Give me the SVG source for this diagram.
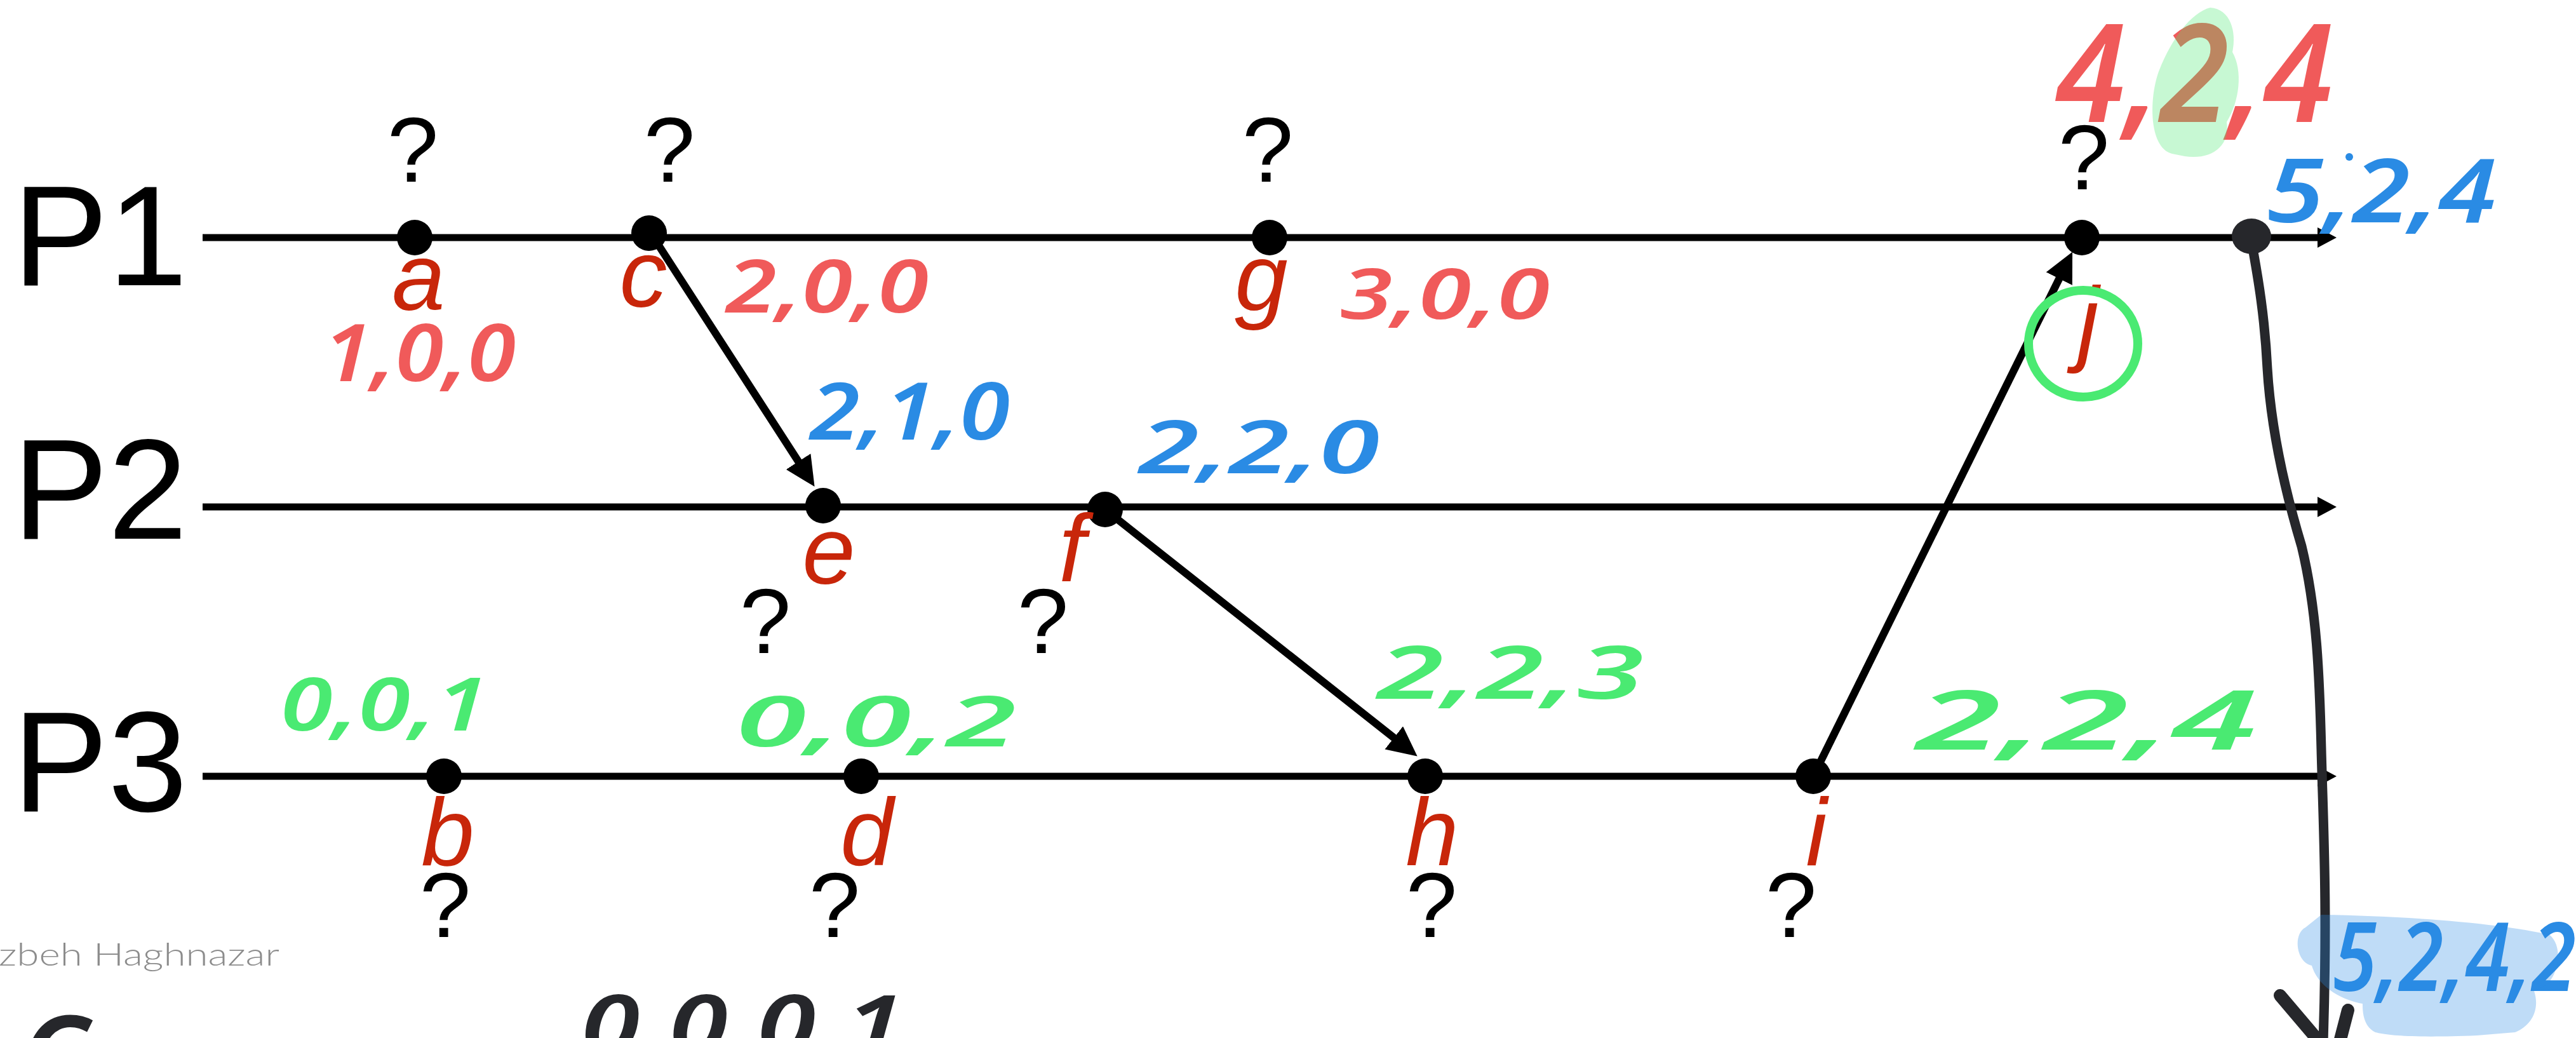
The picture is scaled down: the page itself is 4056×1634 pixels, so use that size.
<svg xmlns="http://www.w3.org/2000/svg" width="4056" height="1634" viewBox="0 0 4056 1634">
<defs>
<style>
.proc{font-family:"Liberation Sans",Arial,sans-serif;font-size:225px;fill:#000}
.tl{stroke:#000;stroke-width:11;fill:none}
.dot{fill:#000}
.lbl{font-family:"Liberation Sans",Arial,sans-serif;font-style:italic;font-size:150px;fill:#c8260a;text-anchor:middle}
.q{font-family:"Liberation Sans",Arial,sans-serif;font-size:145px;fill:#000;text-anchor:middle}
.msg{stroke:#000;stroke-width:12;fill:none}
.hw{font-family:"Noto Sans","DejaVu Sans",sans-serif;font-style:italic;font-weight:600}
.red{fill:#f05a5a}
.blue{fill:#2a8be4}
.green{fill:#4aea72}
.ink{fill:#26272b}
</style>
<marker id="tlArrow" markerUnits="userSpaceOnUse" markerWidth="32" markerHeight="34" refX="10" refY="16" orient="auto" viewBox="0 0 32 34"><path d="M0,0 L30,16 L0,32 Z" fill="#000"/></marker>
<marker id="msgArrow" markerUnits="userSpaceOnUse" markerWidth="50" markerHeight="50" refX="22" refY="23" orient="auto" viewBox="0 0 50 50"><path d="M0,0 L47,23 L0,46 Z" fill="#000"/></marker>
</defs>
<rect width="4056" height="1634" fill="#fff"/>

<g id="P1"><text class="proc" x="20" y="449">P1</text><line class="tl" x1="319" y1="374" x2="3659" y2="374" marker-end="url(#tlArrow)"/></g>
<g id="P2"><text class="proc" x="20" y="848">P2</text><line class="tl" x1="319" y1="798" x2="3659" y2="798" marker-end="url(#tlArrow)"/></g>
<g id="P3"><text class="proc" x="20" y="1277">P3</text><line class="tl" x1="319" y1="1222" x2="3659" y2="1222" marker-end="url(#tlArrow)"/></g>

<g id="connectors">
<line class="msg" x1="1024" y1="366" x2="1269" y2="745" marker-end="url(#msgArrow)"/>
<line class="msg" x1="1740" y1="802" x2="2212" y2="1175" marker-end="url(#msgArrow)"/>
<line class="msg" x1="2855" y1="1222" x2="3252" y2="419" marker-end="url(#msgArrow)"/>
<path d="M3545,380 C3556,440 3566,500 3570,580 C3576,680 3600,780 3624,860 C3648,960 3652,1060 3655,1180 C3658,1300 3665,1420 3658,1640" stroke="#26272b" stroke-width="15" fill="none" stroke-linecap="round"/>
<path d="M3590,1567 L3652,1640 M3697,1590 L3684,1640" stroke="#26272b" stroke-width="20" fill="none" stroke-linecap="round"/>
</g>

<g id="event-a"><circle class="dot" cx="653" cy="374" r="28"/><text class="lbl" x="659" y="488">a</text><text class="q" x="650" y="286">?</text></g>
<g id="event-c"><circle class="dot" cx="1022" cy="367" r="28"/><text class="lbl" x="1013" y="483">c</text><text class="q" x="1054" y="286">?</text></g>
<g id="event-g"><circle class="dot" cx="1999" cy="374" r="28"/><text class="lbl" x="1986" y="489">g</text><text class="q" x="1996" y="286">?</text></g>
<g id="event-j"><circle class="dot" cx="3278" cy="374" r="28"/><text class="lbl" x="3288" y="557">j</text><text class="q" x="3281" y="298">?</text></g>
<g id="event-k"><ellipse cx="3545" cy="372" rx="31" ry="28" fill="#26272b"/></g>
<g id="event-e"><circle class="dot" cx="1296" cy="796" r="28"/><text class="lbl" x="1305" y="919">e</text><text class="q" x="1205" y="1028">?</text></g>
<g id="event-f"><circle class="dot" cx="1740" cy="802" r="28"/><text class="lbl" x="1688" y="915">f</text><text class="q" x="1642" y="1028">?</text></g>
<g id="event-b"><circle class="dot" cx="699" cy="1222" r="28"/><text class="lbl" x="705" y="1362">b</text><text class="q" x="701" y="1475">?</text></g>
<g id="event-d"><circle class="dot" cx="1356" cy="1222" r="28"/><text class="lbl" x="1365" y="1362">d</text><text class="q" x="1314" y="1475">?</text></g>
<g id="event-h"><circle class="dot" cx="2244" cy="1222" r="28"/><text class="lbl" x="2255" y="1362">h</text><text class="q" x="2254" y="1475">?</text></g>
<g id="event-i"><circle class="dot" cx="2855" cy="1222" r="28"/><text class="lbl" x="2860" y="1362">i</text><text class="q" x="2820" y="1475">?</text></g>

<g id="annotations">
<text class="hw red" x="509" y="600" font-size="125" textLength="303" lengthAdjust="spacingAndGlyphs">1,0,0</text>
<text class="hw red" x="1143" y="492" font-size="115" textLength="319" lengthAdjust="spacingAndGlyphs">2,0,0</text>
<text class="hw red" x="2110" y="502" font-size="110" textLength="330" lengthAdjust="spacingAndGlyphs">3,0,0</text>
<text class="hw red" x="3237" y="192" font-size="215" font-weight="400" textLength="436" lengthAdjust="spacingAndGlyphs">4,2,4</text>
<path d="M3420,242 C3382,232 3384,150 3400,110 C3420,60 3450,20 3480,12 C3512,14 3522,50 3515,82 C3532,112 3526,160 3506,192 C3512,232 3480,252 3440,246 Z" fill="#4aea72" fill-opacity="0.31"/>
<text class="hw blue" x="3569" y="350" font-size="140" textLength="361" lengthAdjust="spacingAndGlyphs">5,2,4</text>
<circle cx="3699" cy="247" r="6" fill="#2a8be4"/>
<ellipse cx="3280" cy="541" rx="86" ry="84" fill="none" stroke="#4aea72" stroke-width="14"/>
<text class="hw blue" x="1275" y="692" font-size="125" textLength="315" lengthAdjust="spacingAndGlyphs">2,1,0</text>
<text class="hw blue" x="1793" y="745" font-size="115" textLength="379" lengthAdjust="spacingAndGlyphs">2,2,0</text>
<text class="hw green" x="442" y="1150" font-size="115" textLength="326" lengthAdjust="spacingAndGlyphs">0,0,1</text>
<text class="hw green" x="1159" y="1175" font-size="110" textLength="441" lengthAdjust="spacingAndGlyphs">0,0,2</text>
<text class="hw green" x="2168" y="1100" font-size="115" textLength="420" lengthAdjust="spacingAndGlyphs">2,2,3</text>
<text class="hw green" x="3016" y="1180" font-size="130" textLength="537" lengthAdjust="spacingAndGlyphs">2,2,4</text>
<text class="hw blue" x="3673" y="1560" font-size="150" textLength="383" lengthAdjust="spacingAndGlyphs">5,2,4,2</text>
<path d="M3655,1440 C3800,1442 3950,1455 4015,1472 C4035,1490 4030,1530 4010,1550 L3990,1560 C4000,1590 3985,1615 3960,1625 L3900,1630 C3800,1634 3760,1630 3740,1625 C3720,1615 3720,1590 3720,1580 C3690,1575 3650,1555 3640,1520 C3615,1515 3610,1470 3630,1460 Z" fill="#2a8be4" fill-opacity="0.3"/>
<text class="hw ink" x="30" y="1727" font-size="180">C</text>
<text class="hw ink" x="915" y="1660" font-size="130" textLength="508" lengthAdjust="spacingAndGlyphs">0,0,0,1</text>
</g>

<text x="-2" y="1520" font-family="Lato,'Open Sans',sans-serif" font-weight="300" font-size="50" fill="#8c8c8c" textLength="442" lengthAdjust="spacingAndGlyphs">zbeh Haghnazar</text>
</svg>
